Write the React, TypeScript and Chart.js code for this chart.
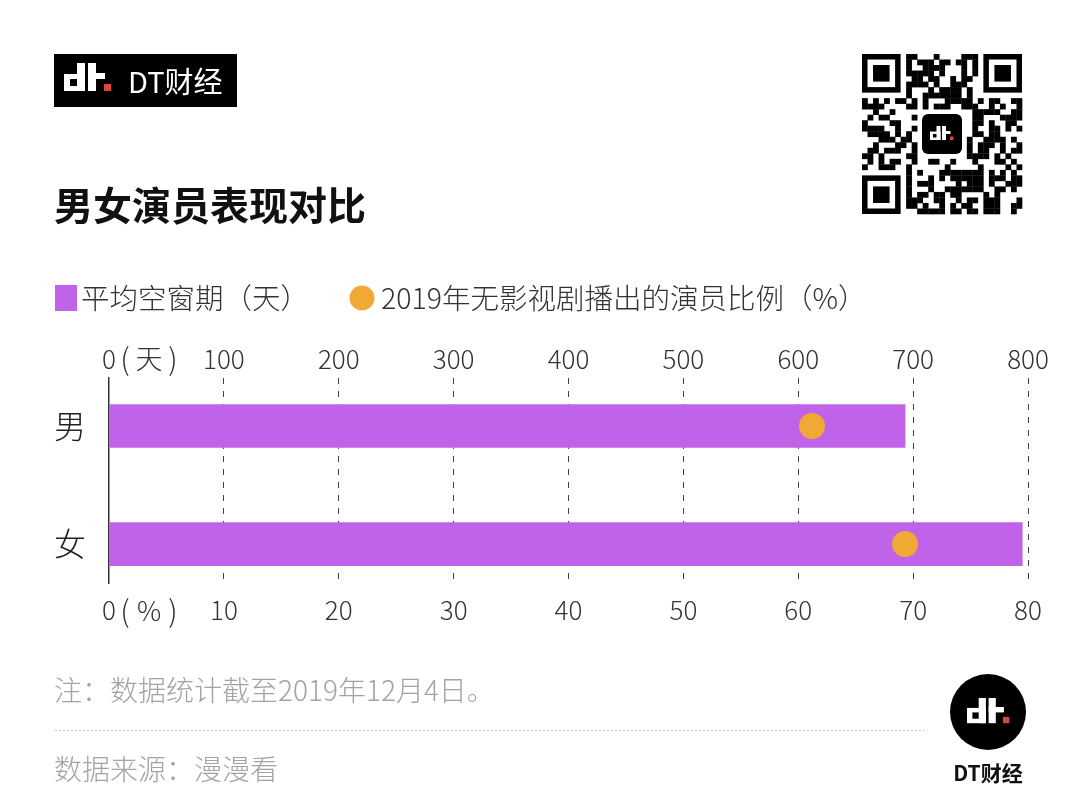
import React, { useEffect, useRef } from 'react';
import { Chart, registerables } from 'chart.js';

Chart.register(...registerables);

// ---- data ----
const categories = ['男', '女'];
const gapDays = [693, 795]; // 平均空窗期（天）
const noShowPct = [61.2, 69.3]; // 2019年无影视剧播出的演员比例（%）
const dayTicks = [0, 100, 200, 300, 400, 500, 600, 700, 800];
const pctTicks = [0, 10, 20, 30, 40, 50, 60, 70, 80];
const legendLabels = ['平均空窗期（天）', '2019年无影视剧播出的演员比例（%）'];
const titleText = '男女演员表现对比';
const noteText = '注：数据统计截至2019年12月4日。';
const sourceText = '数据来源：漫漫看';
const brandText = 'DT财经';
const dayUnit = '天';
const pctUnit = '%';

const PURPLE = '#C063E8';
const ORANGE = '#F0A935';
const CJK = '"Noto Sans CJK SC", sans-serif';

function drawDtGlyph(ctx: CanvasRenderingContext2D, x: number, y: number, s: number) {
  ctx.fillStyle = '#fff';
  ctx.fillRect(x, y + 11 * s, 21 * s, 17 * s);
  ctx.fillRect(x + 13 * s, y, 8 * s, 28 * s);
  ctx.fillRect(x + 24 * s, y, 8 * s, 28 * s);
  ctx.fillRect(x + 24 * s, y + 10 * s, 17 * s, 6 * s);
  ctx.fillStyle = '#000';
  ctx.fillRect(x + 6 * s, y + 16 * s, 7 * s, 7 * s);
  ctx.fillStyle = '#E0443F';
  ctx.fillRect(x + 40 * s, y + 21 * s, 7 * s, 7 * s);
}

function qrBit(r: number, c: number) {
  let h = (r * 374761393 + c * 668265263) | 0;
  h = Math.imul(h ^ (h >>> 13), 1274126177);
  h ^= h >>> 16;
  return (h & 3) < 2;
}

function drawQR(ctx: CanvasRenderingContext2D, x0: number, y0: number, size: number) {
  const n = 29;
  const m = size / n;
  const finder = (fr: number, fc: number) => {
    ctx.fillStyle = '#000';
    ctx.fillRect(x0 + fc * m, y0 + fr * m, 7 * m, 7 * m);
    ctx.fillStyle = '#fff';
    ctx.fillRect(x0 + (fc + 1) * m, y0 + (fr + 1) * m, 5 * m, 5 * m);
    ctx.fillStyle = '#000';
    ctx.fillRect(x0 + (fc + 2) * m, y0 + (fr + 2) * m, 3 * m, 3 * m);
  };
  for (let r = 0; r < n; r++) {
    for (let c = 0; c < n; c++) {
      const inF = (r < 8 && c < 8) || (r < 8 && c > n - 9) || (r > n - 9 && c < 8);
      const inCenter = r >= 10 && r <= 18 && c >= 10 && c <= 18;
      if (inF || inCenter) continue;
      if (qrBit(r, c)) {
        ctx.fillStyle = '#000';
        ctx.fillRect(x0 + c * m, y0 + r * m, m + 0.3, m + 0.3);
      }
    }
  }
  finder(0, 0);
  finder(0, n - 7);
  finder(n - 7, 0);
  const cx = x0 + size / 2;
  const cy = y0 + size / 2;
  ctx.fillStyle = '#000';
  ctx.beginPath();
  (ctx as any).roundRect(cx - 20, cy - 20, 40, 40, 6);
  ctx.fill();
  drawDtGlyph(ctx, cx - 12, cy - 8, 0.5);
}

const decorPlugin = {
  id: 'decor',
  beforeDraw(chart: any) {
    const ctx: CanvasRenderingContext2D = chart.ctx;
    ctx.save();
    ctx.fillStyle = '#fff';
    ctx.fillRect(0, 0, chart.width, chart.height);

    // header logo box
    ctx.fillStyle = '#000';
    ctx.fillRect(54, 54, 183, 53);
    drawDtGlyph(ctx, 64, 63, 1);
    ctx.fillStyle = '#fff';
    ctx.font = `29px ${CJK}`;
    ctx.textBaseline = 'middle';
    ctx.textAlign = 'left';
    ctx.fillText(brandText, 128, 82);

    // QR code
    drawQR(ctx, 862, 54, 160);

    // title
    ctx.fillStyle = '#111';
    ctx.font = `bold 39px ${CJK}`;
    ctx.fillText(titleText, 54, 205);

    // legend
    ctx.fillStyle = PURPLE;
    ctx.fillRect(55, 285, 22, 26);
    ctx.fillStyle = '#333';
    ctx.font = `300 28.5px ${CJK}`;
    ctx.fillText(legendLabels[0], 81, 298);
    ctx.fillStyle = ORANGE;
    ctx.beginPath();
    ctx.arc(362, 298, 12.5, 0, Math.PI * 2);
    ctx.fill();
    ctx.fillStyle = '#333';
    ctx.fillText(legendLabels[1], 381, 298);

    // footer
    ctx.fillStyle = '#a3a3a3';
    ctx.font = `300 28px ${CJK}`;
    ctx.fillText(noteText, 54, 690);
    ctx.fillText(sourceText, 54, 769);
    ctx.strokeStyle = '#c8c8c8';
    ctx.lineWidth = 1;
    ctx.setLineDash([2, 2]);
    ctx.beginPath();
    ctx.moveTo(55, 730.5);
    ctx.lineTo(925, 730.5);
    ctx.stroke();
    ctx.setLineDash([]);

    // bottom-right logo
    ctx.fillStyle = '#000';
    ctx.beginPath();
    ctx.arc(988, 712, 38, 0, Math.PI * 2);
    ctx.fill();
    drawDtGlyph(ctx, 967, 698, 0.9);
    ctx.fillStyle = '#111';
    ctx.font = `bold 21px ${CJK}`;
    ctx.textAlign = 'center';
    ctx.fillText(brandText, 988, 773);
    ctx.restore();
  },
  afterDraw(chart: any) {
    const ctx: CanvasRenderingContext2D = chart.ctx;
    const xs = chart.scales.x;
    const x0 = xs.getPixelForValue(0);
    ctx.save();
    ctx.fillStyle = '#333';
    ctx.textBaseline = 'middle';
    ctx.textAlign = 'center';
    const unit = (y: number, mid: string, midSize: number) => {
      ctx.font = `300 30px ${CJK}`;
      ctx.fillText('(', x0 + 16, y);
      ctx.fillText(')', x0 + 64, y);
      ctx.font = `300 ${midSize}px ${CJK}`;
      ctx.fillText(mid, x0 + 40, y);
    };
    unit(359, dayUnit, 27);
    unit(611, pctUnit, 27);
    ctx.restore();
  },
};

export default function App() {
  const ref = useRef<HTMLCanvasElement>(null);
  useEffect(() => {
    const chart = new Chart(ref.current as HTMLCanvasElement, {
      type: 'bar',
      data: {
        datasets: [
          {
            type: 'bar',
            label: legendLabels[0],
            data: categories.map((_, i) => ({ x: gapDays[i], y: i })) as any,
            xAxisID: 'x',
            yAxisID: 'y',
            backgroundColor: PURPLE,
            barThickness: 43,
            indexAxis: 'y',
            order: 2,
          } as any,
          {
            type: 'scatter',
            label: legendLabels[1],
            data: categories.map((_, i) => ({ x: noShowPct[i], y: i })) as any,
            xAxisID: 'x2',
            yAxisID: 'y',
            backgroundColor: ORANGE,
            borderWidth: 0,
            pointRadius: 13,
            order: 1,
          } as any,
        ],
      },
      options: {
        responsive: false,
        animation: false,
        indexAxis: 'y',
        layout: { padding: { left: 0, right: 52, top: 318, bottom: 160 } },
        plugins: { legend: { display: false }, tooltip: { enabled: false } },
        scales: {
          x: {
            type: 'linear',
            axis: 'x',
            position: 'top',
            bounds: 'data',
            offset: false,
            min: 0,
            max: 800,
            afterBuildTicks: (s: any) => { s.ticks = dayTicks.map((v) => ({ value: v })); },
            afterFit: (s: any) => { s.height = 60; },
            ticks: {
              padding: 3,
              color: '#333',
              font: { family: CJK, size: 26, weight: '300' },
              callback: (v: any) => String(v),
            },
            grid: {
              drawTicks: false,
              offset: false,
              lineWidth: 1,
              color: (c: any) => (c.tick && c.tick.value === 0 ? 'rgba(0,0,0,0)' : '#444'),
            },
            border: { display: false, dash: [6, 7] },
          } as any,
          x2: {
            type: 'linear',
            axis: 'x',
            position: 'bottom',
            bounds: 'data',
            offset: false,
            min: 0,
            max: 80,
            afterBuildTicks: (s: any) => { s.ticks = pctTicks.map((v) => ({ value: v })); },
            afterFit: (s: any) => { s.height = 60; },
            ticks: {
              padding: 12,
              color: '#333',
              font: { family: CJK, size: 26, weight: '300' },
              callback: (v: any) => String(v),
            },
            grid: { display: false, drawTicks: false },
            border: { display: false },
          } as any,
          y: {
            type: 'linear',
            axis: 'y',
            position: 'left',
            reverse: true,
            bounds: 'data',
            offset: false,
            min: -0.407,
            max: 1.33,
            afterBuildTicks: (s: any) => { s.ticks = categories.map((_, i) => ({ value: i })); },
            afterFit: (s: any) => { s.width = 109; },
            ticks: {
              padding: 23,
              color: '#222',
              font: { family: CJK, size: 32, weight: '300' },
              callback: (v: any) => categories[v] ?? '',
            },
            grid: { display: false, drawTicks: false, offset: false },
            border: { display: true, color: '#333', width: 1.5 },
          } as any,
        },
      },
      plugins: [decorPlugin],
    } as any);
    return () => chart.destroy();
  }, []);
  return (
    <div style={{ position: 'fixed', left: 0, top: 0, width: 1080, height: 803 }}>
      <canvas ref={ref} width={1080} height={803} style={{ display: 'block' }} />
    </div>
  );
}
